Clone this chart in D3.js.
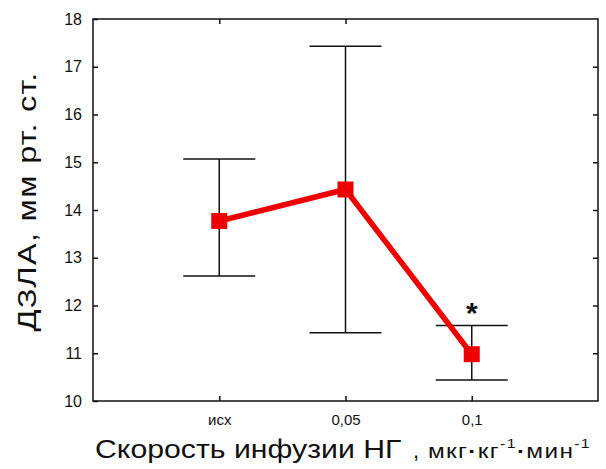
<!DOCTYPE html>
<html>
<head>
<meta charset="utf-8">
<script src="https://cdn.jsdelivr.net/npm/d3@7"></script>
<style>
  body { margin: 0; background: #fff; }
  svg { display: block; }
  text { font-family: "Liberation Sans", Arial, sans-serif; fill: #111; }
</style>
</head>
<body>
<svg id="chart" width="606" height="469"></svg>
<script>
// Infusion rate groups and PCWP (mean with range)
const categories = ["исх", "0,05", "0,1"];
const means = [13.77, 14.43, 10.98];
const upper = [15.07, 17.43, 11.58];
const lower = [12.62, 11.43, 10.44];
const significant = [false, false, true];
const yTicks = [10, 11, 12, 13, 14, 15, 16, 17, 18];

const svg = d3.select("#chart");
const m = { left: 93, right: 598, top: 19, bottom: 401 };

const x = d3.scaleLinear().domain([0, categories.length + 1]).range([m.left, m.right]);
const y = d3.scaleLinear().domain([10, 18]).range([m.bottom, m.top]);
const xPos = (d, i) => x(i + 1);

// Frame
svg.append("rect")
  .attr("x", m.left).attr("y", m.top)
  .attr("width", m.right - m.left).attr("height", m.bottom - m.top)
  .attr("fill", "none").attr("stroke", "#111").attr("stroke-width", 1.5);

// Inward ticks on all four sides
const tickLen = 5;
const yAxisL = d3.axisLeft(y).tickValues(yTicks).tickSizeInner(-tickLen).tickSizeOuter(0).tickPadding(10);
const gL = svg.append("g").attr("transform", `translate(${m.left},0)`).call(yAxisL);
gL.select(".domain").remove();
gL.selectAll("text").attr("font-size", 16).attr("dx", "-1").attr("fill", "#222");

const yAxisR = d3.axisRight(y).tickValues(yTicks.slice(1, -1)).tickSizeInner(-tickLen).tickSizeOuter(0).tickFormat("");
svg.append("g").attr("transform", `translate(${m.right},0)`).call(yAxisR).select(".domain").remove();

const xTickVals = categories.map((d, i) => i + 1);
const xAxisB = d3.axisBottom(x).tickValues(xTickVals).tickSizeInner(-tickLen).tickSizeOuter(0)
  .tickFormat((d) => categories[d - 1]).tickPadding(13);
const gB = svg.append("g").attr("transform", `translate(0,${m.bottom})`).call(xAxisB);
gB.select(".domain").remove();
gB.selectAll("text").attr("font-size", 15).attr("fill", "#222");

const xAxisT = d3.axisTop(x).tickValues(xTickVals.slice(0, 2)).tickSizeInner(-tickLen).tickSizeOuter(0).tickFormat("");
svg.append("g").attr("transform", `translate(0,${m.top})`).call(xAxisT).select(".domain").remove();

svg.selectAll(".tick line").attr("stroke", "#111").attr("stroke-width", 1.5);

// Error bars
const cap = 36;
const eb = svg.append("g").attr("stroke", "#111").attr("stroke-width", 1.5);
categories.forEach((c, i) => {
  const cx = xPos(c, i);
  eb.append("line").attr("x1", cx).attr("x2", cx).attr("y1", y(upper[i])).attr("y2", y(lower[i]));
  eb.append("line").attr("x1", cx - cap).attr("x2", cx + cap).attr("y1", y(upper[i])).attr("y2", y(upper[i]));
  eb.append("line").attr("x1", cx - cap).attr("x2", cx + cap).attr("y1", y(lower[i])).attr("y2", y(lower[i]));
});

// Mean line with square markers
const line = d3.line().x((d, i) => xPos(d, i)).y((d) => y(d));
svg.append("path").datum(means)
  .attr("d", line).attr("fill", "none").attr("stroke", "#ee0000").attr("stroke-width", 5.5);

const ms = 16;
svg.selectAll("rect.marker").data(means).enter().append("rect")
  .attr("class", "marker")
  .attr("x", (d, i) => xPos(d, i) - ms / 2)
  .attr("y", (d) => y(d) - ms / 2)
  .attr("width", ms).attr("height", ms)
  .attr("fill", "#ee0000");

// Significance marks
means.forEach((d, i) => {
  if (!significant[i]) return;
  svg.append("text")
    .attr("x", xPos(d, i))
    .attr("y", y(upper[i]) - 3)
    .attr("text-anchor", "middle")
    .attr("font-size", 30).attr("font-weight", "bold")
    .text("*");
});

// Axis titles (widened lettering)
svg.append("text")
  .attr("transform", "translate(95,458) scale(1.21,1)")
  .attr("font-size", 25)
  .text("Скорость инфузии НГ");
svg.append("text").attr("x", 413).attr("y", 458).attr("font-size", 22).text(",");

const units = svg.append("text")
  .attr("transform", "translate(428,458) scale(1.22,1)")
  .attr("font-size", 20)
  .attr("letter-spacing", 1.1);
units.append("tspan").text("мкг");
units.append("tspan").attr("font-weight", "bold").text("·");
units.append("tspan").text("кг");
units.append("tspan").attr("font-size", 13).attr("dy", -10).text("-1");
units.append("tspan").attr("font-weight", "bold").attr("dy", 10).text("·");
units.append("tspan").text("мин");
units.append("tspan").attr("font-size", 13).attr("dy", -10).text("-1");

svg.append("text")
  .attr("transform", "translate(36,201.5) rotate(-90) scale(1.3,1)")
  .attr("text-anchor", "middle")
  .attr("font-size", 25)
  .attr("letter-spacing", 1)
  .text("ДЗЛА, мм рт. ст.");
</script>
</body>
</html>
